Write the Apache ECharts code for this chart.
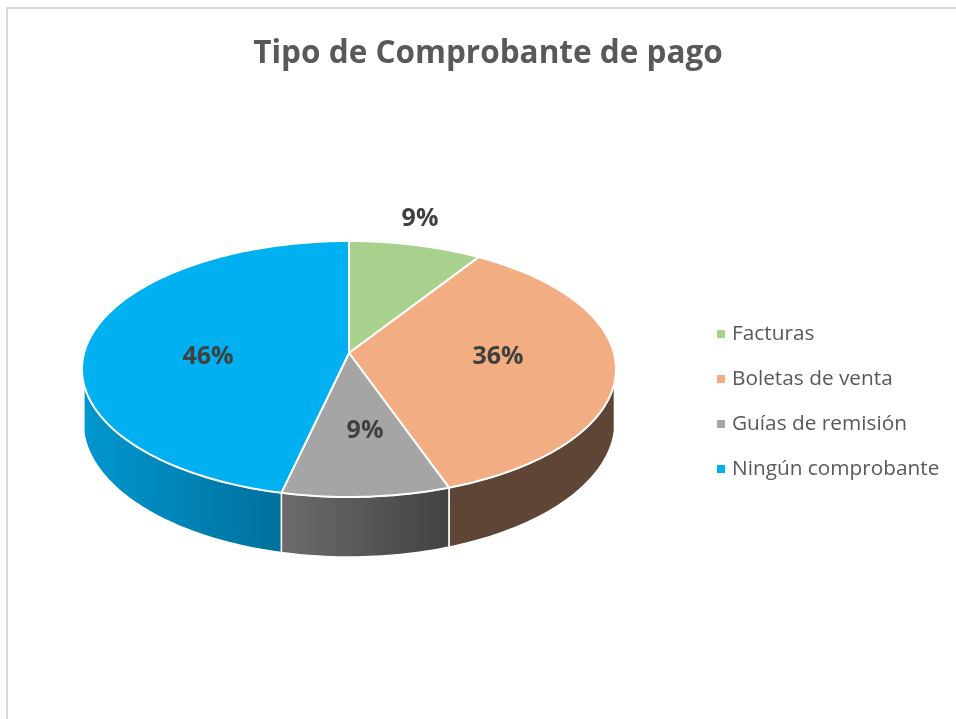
<!DOCTYPE html>
<html>
<head>
<meta charset="utf-8">
<title>Tipo de Comprobante de pago</title>
<style>
  html, body { margin: 0; padding: 0; background: #fff; }
  #main { width: 956px; height: 719px; }
</style>
<script src="https://cdn.jsdelivr.net/npm/echarts@6/dist/echarts.min.js"></script>
</head>
<body>
<div id="main"></div>
<script>
  var categories = ['Facturas', 'Boletas de venta', 'Guías de remisión', 'Ningún comprobante'];
  var shares = [9.1, 35.5, 9.0, 46.4];

  var topColors = ['#a9d18e', '#f2ae82', '#a5a5a5', '#00b0f0'];
  // color de la pared lateral, izquierda -> derecha
  var wallColors = [['#6f8f5c', '#6f8f5c'], ['#5f4536', '#5f4536'], ['#6c6c6c', '#424242'], ['#0097cf', '#00709c']];
  var labelAt = [[420, 219], [498, 357], [365, 431], [208, 357]];

  // disco superior: circulo proyectado en perspectiva
  var apexX = 349, apexY = 353, discA = 264.9, discB = 126, persp = 0.125;
  // borde inferior de la pared
  var baseCy = 422, baseRx = 266, baseRy = 135;
  var wallStartY = 382;

  function project(pct) {
    var t = pct / 100 * Math.PI * 2;
    var u = Math.sin(t), v = -Math.cos(t);
    var d = 1 - persp * v;
    return [apexX + discA * u / d, apexY + discB * v / d];
  }

  function arc(from, to) {
    var pts = [];
    var n = Math.max(2, Math.ceil((to - from) * 3));
    for (var i = 0; i <= n; i++) {
      pts.push(project(from + (to - from) * i / n));
    }
    return pts;
  }

  function baseY(x) {
    var k = Math.min(1, Math.abs(x - apexX) / baseRx);
    return baseCy + baseRy * Math.sqrt(1 - k * k);
  }

  function renderSlice(index) {
    return function (params, api) {
      var from = api.value(0), size = api.value(1);
      var edge = arc(from, from + size);
      var children = [];
      var front = edge.filter(function (p) { return p[1] >= wallStartY; });
      if (front.length > 1) {
        var lower = front.map(function (p) { return [p[0], baseY(p[0])]; }).reverse();
        children.push({
          type: 'polygon',
          shape: { points: front.concat(lower) },
          style: {
            fill: new echarts.graphic.LinearGradient(0, 0, 1, 0, [
              { offset: 0, color: wallColors[index][0] },
              { offset: 1, color: wallColors[index][1] }
            ]),
            stroke: '#fff', lineWidth: 1.5, lineJoin: 'round'
          }
        });
      }
      children.push({
        type: 'polygon',
        shape: { points: [[apexX, apexY]].concat(edge) },
        style: { fill: topColors[index], stroke: '#fff', lineWidth: 2, lineJoin: 'round' }
      });
      children.push({
        type: 'text',
        z2: 10,
        style: {
          x: labelAt[index][0], y: labelAt[index][1],
          text: Math.round(size) + '%',
          fill: '#404040',
          font: 'bold 25px "Open Sans"',
          textAlign: 'center', textVerticalAlign: 'middle'
        }
      });
      return { type: 'group', children: children };
    };
  }

  var running = 0;
  var series = categories.map(function (name, i) {
    var s = {
      type: 'custom',
      name: name,
      coordinateSystem: 'none',
      silent: true,
      animation: false,
      itemStyle: { color: topColors[i] },
      renderItem: renderSlice(i),
      data: [[running, shares[i]]]
    };
    running += shares[i];
    return s;
  });

  var chart = echarts.init(document.getElementById('main'), null, { renderer: 'canvas' });
  chart.setOption({
    backgroundColor: '#fff',
    animation: false,
    title: {
      text: 'Tipo de Comprobante de pago',
      left: 483, top: 33, textAlign: 'center',
      textStyle: { color: '#595959', fontSize: 31.5, fontWeight: 'bold', fontFamily: 'Open Sans' }
    },
    legend: {
      orient: 'vertical',
      left: 712, top: 315,
      icon: 'rect',
      itemWidth: 8, itemHeight: 8,
      itemGap: 17,
      selectedMode: false,
      data: categories,
      textStyle: { color: '#595959', fontSize: 20.8, fontFamily: 'Open Sans', lineHeight: 28, padding: [0, 0, 0, 2] }
    },
    graphic: [{
      type: 'polyline',
      silent: true,
      shape: { points: [[7, 719], [7, 8], [956, 8]] },
      style: { stroke: '#d9d9d9', lineWidth: 2, fill: null }
    }],
    series: series
  });

  window.addEventListener('resize', function () { chart.resize(); });
</script>
</body>
</html>
